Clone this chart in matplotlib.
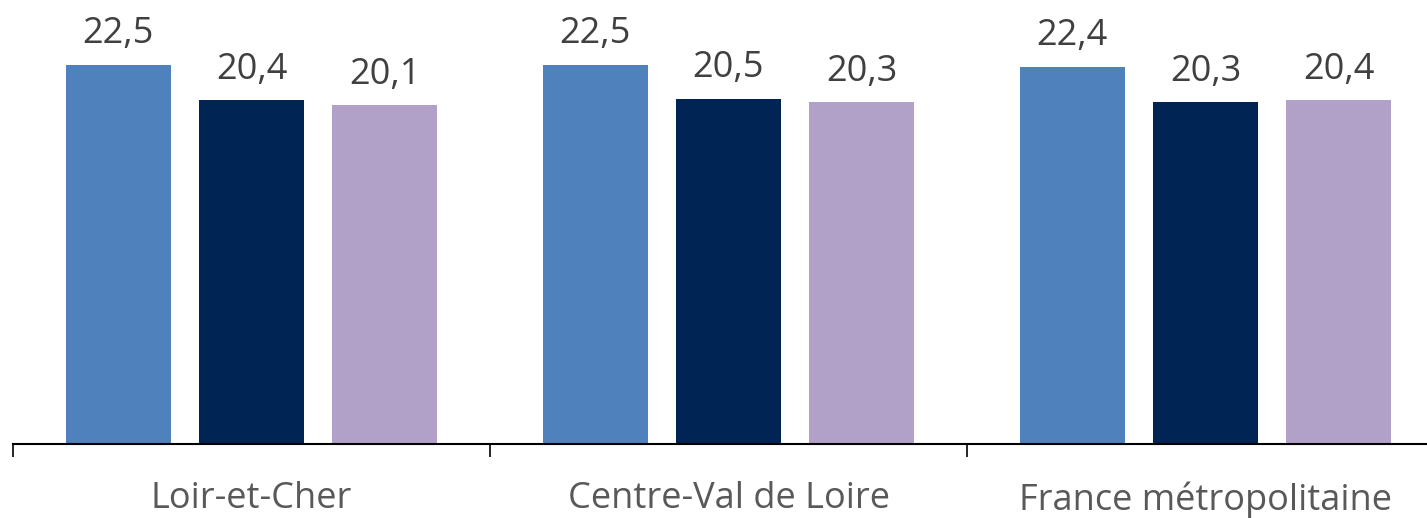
import numpy as np
import matplotlib.pyplot as plt

categories = ["Loir-et-Cher", "Centre-Val de Loire", "France métropolitaine"]
serie_1 = [22.5, 22.5, 22.4]
serie_2 = [20.4, 20.5, 20.3]
serie_3 = [20.1, 20.3, 20.4]
colors = ["#4F81BD", "#002554", "#B1A0C7"]

plt.rcParams['font.family'] = ['Open Sans', 'DejaVu Sans']

W, H = 1427, 518
fig = plt.figure(figsize=(W / 100, H / 100), dpi=100)
# axes runs a little beyond the right edge, like the original crop
ax = fig.add_axes([13 / W, 74 / H, 1431 / W, 438 / H])

x = np.arange(len(categories))
offsets = [-0.279, 0.0, 0.279]
for series, off, c in zip([serie_1, serie_2, serie_3], offsets, colors):
    bars = ax.bar(x + off, series, width=0.22, color=c)
    for b, v in zip(bars, series):
        ax.annotate(("%.1f" % v).replace(".", ","),
                    (b.get_x() + b.get_width() / 2, b.get_height()),
                    xytext=(0, 9), textcoords="offset points",
                    ha="center", va="bottom", fontsize=26, color="#404040")

ax.set_xlim(-0.5, 2.5)
ax.set_ylim(0, 26)
ax.set_yticks([])
for s in ["top", "right", "left"]:
    ax.spines[s].set_visible(False)
ax.spines["bottom"].set_linewidth(1.5)

ax.set_xticks(x)
ax.set_xticklabels(categories, fontsize=26, color="#595959")
ax.tick_params(axis="x", which="major", length=0, pad=27)
ax.set_xticks([-0.5, 0.5, 1.5, 2.5], minor=True)
ax.tick_params(axis="x", which="minor", length=9, width=1.2)

fig.savefig("out.png", dpi=100)
